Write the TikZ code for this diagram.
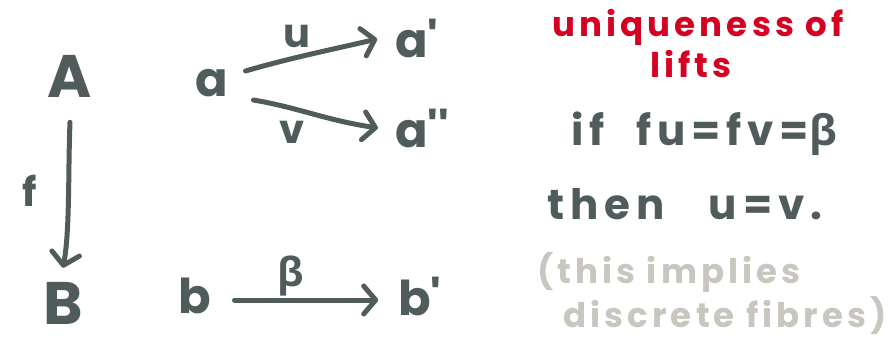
\documentclass[tikz,border=0pt]{standalone}
\usepackage{fontspec}
\setmainfont{Poppins}
\newfontfamily\grk{Open Sans}
\usetikzlibrary{arrows.meta}
\definecolor{ink}{RGB}{80,92,91}
\definecolor{redink}{RGB}{214,0,34}
\definecolor{greyink}{RGB}{200,198,190}
\begin{document}
\begin{tikzpicture}[x=1pt,y=-1pt,
  capl/.style={inner sep=0pt, text=ink, font=\fontsize{60}{64}\selectfont\bfseries},
  low/.style={inner sep=0pt, text=ink, font=\fontsize{48}{50}\selectfont\bfseries},
  lab/.style={inner sep=0pt, text=ink, font=\fontsize{40}{44}\selectfont\bfseries},
  txt/.style={inner sep=0pt, text=ink, font=\fontsize{34}{40}\selectfont\bfseries\addfontfeatures{LetterSpace=12}},
  big/.style={inner sep=0pt, text=ink, font=\fontsize{42}{46}\selectfont\bfseries\addfontfeatures{LetterSpace=14}},
  arr/.style={draw=ink, line width=5pt, line cap=round,
    -{Straight Barb[length=12pt,width=28pt,round]}}
]
\useasboundingbox (0,0) rectangle (890,345);
\node[capl] (A) at (70,76) {A};
\node[capl] (B) at (63,303) {B};
\node[lab] (f) at (30,191) {f};
\node[low] (a) at (212,83) {a};
\node[low] (a1) at (417,38) {a\textquotesingle};
\node[low] (a2) at (422,128) {a\textquotesingle\textquotesingle};
\node[low] (b) at (195,296) {b};
\node[low] (b1) at (420,296) {b\textquotesingle};
\node[lab] (u) at (297,36) {u};
\node[lab] (v) at (292,132) {v};
\node[lab] (beta) at (291,276) {\grk\bfseries β};
\draw[arr] ([yshift=-25pt]A.south) .. controls (68,170) and (70,230) .. ([yshift=14pt]B.north);
\draw[arr] ([shift={(17,-12)}]a.east) .. controls (290,58) and (330,50) .. ([shift={(-18,1)}]a1.west);
\draw[arr] ([shift={(25,17)}]a.east) .. controls (300,108) and (325,120) .. ([shift={(-17,0)}]a2.west);
\draw[arr] ([shift={(23,4)}]b.east) -- ([shift={(-20,4)}]b1.west);
\node[txt, text=redink] (t1) at (698,27) {uniqueness of};
\node[txt, text=redink] (t2) at (691,64) {lifts};
\node[big] (t3) at (704,134) {if\hspace{32pt}fu=fv={\grk\bfseries β}};
\node[big] (t4) at (685,204) {then\hspace{44pt}u=v.};
\node[txt, text=greyink] (t5) at (669,272) {(this implies};
\node[txt, text=greyink] (t6) at (725,316) {discrete fibres)};
\end{tikzpicture}
\end{document}
